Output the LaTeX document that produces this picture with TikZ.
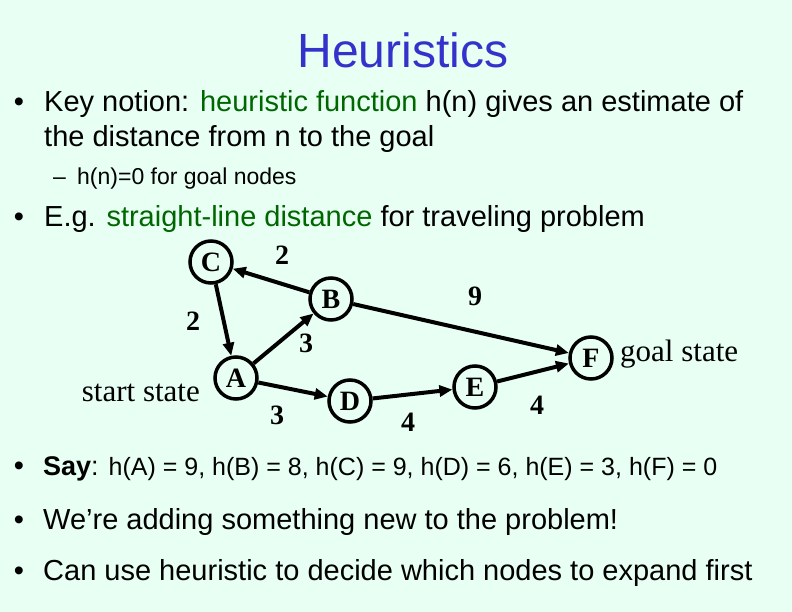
\documentclass[tikz,border=0pt]{standalone}
\usepackage{fontspec}
\setmainfont{Liberation Sans}
\newfontfamily\seriffont{Liberation Serif}
\usetikzlibrary{arrows.meta}
\definecolor{bgmint}{HTML}{E8FFF4}
\definecolor{titleblue}{HTML}{3333CC}
\definecolor{keygreen}{HTML}{006600}
\begin{document}
\begin{tikzpicture}[x=1pt,y=-1pt,
  txt/.style={anchor=base west, inner sep=0pt, font=\fontsize{29}{34}\selectfont},
  subtxt/.style={anchor=base west, inner sep=0pt, font=\fontsize{23}{28}\selectfont},
  bul/.style={anchor=base, inner sep=0pt, font=\fontsize{29}{34}\selectfont},
  state/.style={circle, draw, line width=3.5pt, minimum size=42pt, inner sep=0pt,
    font=\seriffont\bfseries\fontsize{28}{30}\selectfont},
  wlabel/.style={inner sep=0pt, font=\seriffont\bfseries\fontsize{28}{30}\selectfont},
  side/.style={inner sep=0pt, font=\seriffont\fontsize{31}{34}\selectfont},
  edge/.style={line width=4pt, -{Triangle[length=13pt,width=11pt]}}]
\fill[bgmint] (0,0) rectangle (792,612);
\useasboundingbox (0,0) rectangle (792,612);

\node[anchor=base, inner sep=0pt, text=titleblue, font=\fontsize{48}{56}\selectfont] (title) at (403,68) {Heuristics};

\node[bul] (b1) at (19,112) {•};
\node[txt] (l1) at (44,112) {Key notion: \textcolor{keygreen}{heuristic function} h(n) gives an estimate of};
\node[txt] (l2) at (44,147) {the distance from n to the goal};
\node[subtxt] (dash1) at (53,185) {–};
\node[subtxt] (l3) at (77,185) {h(n)=0 for goal nodes};
\node[bul] (b2) at (19,227) {•};
\node[txt] (l4) at (44,227) {E.g. \textcolor{keygreen}{straight-line distance} for traveling problem};

\node[bul] (b3) at (19,475) {•};
\node[anchor=base west, inner sep=0pt, font=\fontsize{27}{30}\selectfont] (l5) at (43,475) {\textbf{Say}: {\fontsize{25}{28}\selectfont h(A) = 9, h(B) = 8, h(C) = 9, h(D) = 6, h(E) = 3, h(F) = 0}};
\node[bul] (b4) at (19,529) {•};
\node[txt] (l6) at (43,529) {We’re adding something new to the problem!};
\node[bul] (b5) at (19,580) {•};
\node[txt] (l7) at (43,580) {Can use heuristic to decide which nodes to expand first};

% graph
\node[state] (C) at (211,262) {C};
\node[state] (B) at (331,299) {B};
\node[state] (A) at (236,378) {A};
\node[state] (D) at (350,401) {D};
\node[state] (E) at (475,387) {E};
\node[state] (F) at (591,358) {F};

\draw[edge] (B) -- (C);
\draw[edge] (C) -- (A);
\draw[edge] (A) -- (B);
\draw[edge] (A) -- (D);
\draw[edge] (D) -- (E);
\draw[edge] (E) -- (F);
\draw[edge] (B) -- (F);

\node[wlabel] (wBC) at (282,255) {2};
\node[wlabel] (wCA) at (193,321) {2};
\node[wlabel] (wAB) at (306,343) {3};
\node[wlabel] (wAD) at (277,415) {3};
\node[wlabel] (wBF) at (475,296) {9};
\node[wlabel] (wDE) at (408,422) {4};
\node[wlabel] (wEF) at (537,405) {4};

\node[side, anchor=base east] (start) at (200,401) {start state};
\node[side, anchor=base west] (goal) at (620,361) {goal state};
\end{tikzpicture}
\end{document}
